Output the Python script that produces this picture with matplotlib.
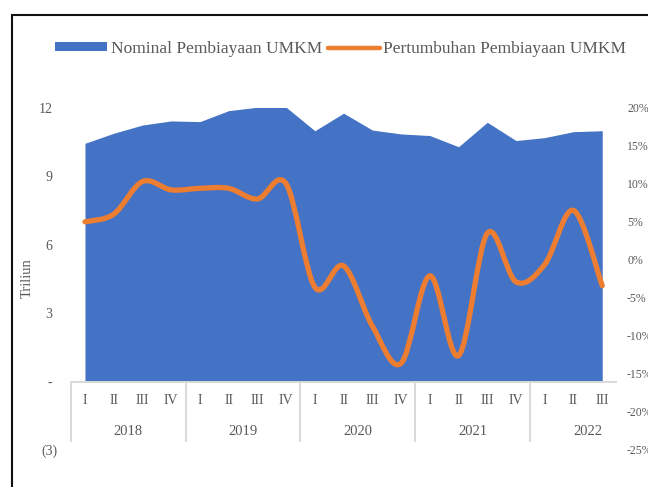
import matplotlib
matplotlib.use("Agg")
import matplotlib.pyplot as plt
from matplotlib.path import Path
from matplotlib.patches import PathPatch, Patch, Rectangle
from matplotlib.lines import Line2D
from matplotlib.transforms import ScaledTranslation
import numpy as np

# ---- data -------------------------------------------------------------
years = ["2018", "2019", "2020", "2021", "2022"]
quarters = ["I", "II", "III", "IV"] * 4 + ["I", "II", "III"]
# Nominal financing to MSMEs (trillion)
nominal = [10.44, 10.88, 11.24, 11.42, 11.39, 11.87, 12.02, 12.02,
           10.99, 11.76, 11.02, 10.85, 10.78, 10.29, 11.36, 10.56,
           10.69, 10.95, 10.99]
# Year-on-year growth of MSME financing (%)
growth = [5.0, 6.0, 10.3, 9.2, 9.4, 9.4, 8.0, 10.0,
          -3.6, -0.8, -8.7, -13.6, -2.1, -12.6, 3.5, -2.9,
          -0.6, 6.5, -3.4]
left_ticks = [-3, 0, 3, 6, 9, 12]
left_tick_labels = ["(3)", "-", "3", "6", "9", "12"]
right_ticks = [-25, -20, -15, -10, -5, 0, 5, 10, 15, 20]
right_tick_labels = [f"{t}%" for t in right_ticks]

legend_labels = ["Nominal Pembiayaan UMKM", "Pertumbuhan Pembiayaan UMKM"]

# ---- style ------------------------------------------------------------
BLUE = "#4472C4"
ORANGE = "#ED7D31"
TEXT = "#595959"
AXLINE = "#D9D9D9"
plt.rcParams["font.family"] = ["Liberation Serif", "DejaVu Serif"]

W, H = 648, 487
fig = plt.figure(figsize=(W / 100, H / 100), dpi=100)

# outer chart frame
fig.add_artist(Rectangle((11.5 / W, -0.05), 1.1, 1 - 14.5 / H + 0.05,
                         transform=fig.transFigure, fill=False,
                         edgecolor="#111111", linewidth=1.5))

ax = fig.add_axes([70.6 / W, 37 / H, 546 / W, 342.3 / H])
x = np.arange(len(nominal))

ax.fill_between(x, 0, nominal, color=BLUE, linewidth=0, zorder=2)
ax.set_xlim(-0.5, len(nominal) - 0.5)
ax.set_ylim(-3, 12)
ax.set_yticks(left_ticks, left_tick_labels)
ax.set_xticks([])
for s in ax.spines.values():
    s.set_visible(False)
ax.tick_params(axis="y", length=0, pad=13, labelsize=10, labelcolor=TEXT)
# accounting-style negative: parentheses hang past the digit column
neg = ax.get_yticklabels()[0]
neg.set_transform(neg.get_transform()
                  + ScaledTranslation(3.5 / 72, 0, fig.dpi_scale_trans))

# category axis line at zero
ax.axhline(0, color=AXLINE, linewidth=1.4, zorder=3)

# multi-level category labels
bounds = [-0.5 + 4 * k for k in range(len(years))]
for b in bounds:
    ax.plot([b, b], [0, -2.6], color=AXLINE, linewidth=1.4,
            clip_on=False, zorder=3)
for i, q in enumerate(quarters):
    ax.text(i, -0.85, q, ha="center", va="center", fontsize=10, color=TEXT)
for k, yr in enumerate(years):
    ax.text(bounds[k] + 2.0, -2.2, yr, ha="center", va="center",
            fontsize=10.5, color=TEXT)

# growth on secondary axis, smoothed line
ax2 = ax.twinx()
ax2.set_ylim(-25, 20)
ax2.set_yticks(right_ticks, right_tick_labels)
ax2.tick_params(axis="y", length=0, pad=7.5, labelsize=8.5, labelcolor=TEXT)
for s in ax2.spines.values():
    s.set_visible(False)
ax2.patch.set_visible(False)


def smooth_path(xs, ys, t=1 / 6):
    pts = np.column_stack([xs, ys]).astype(float)
    verts = [pts[0]]
    codes = [Path.MOVETO]
    m = len(pts)
    for i in range(m - 1):
        p0 = pts[i - 1] if i > 0 else pts[i]
        p1 = pts[i]
        p2 = pts[i + 1]
        p3 = pts[i + 2] if i + 2 < m else pts[i + 1]
        c1 = p1 + (p2 - p0) * t
        c2 = p2 - (p3 - p1) * t
        verts += [c1, c2, p2]
        codes += [Path.CURVE4] * 3
    return Path(verts, codes)


ax2.add_patch(PathPatch(smooth_path(x, growth), facecolor="none",
                        edgecolor=ORANGE, linewidth=3.8,
                        capstyle="round", joinstyle="round", zorder=4))

# axis title
fig.text(27 / W, 1 - 278 / H, "Triliun", rotation=90, ha="center",
         va="center", fontsize=10.5, color=TEXT)

# legend
handles = [Patch(facecolor=BLUE, edgecolor="none"),
           Line2D([], [], color=ORANGE, linewidth=3.2,
                  solid_capstyle="round")]
fig.legend(handles, legend_labels, loc="center left",
           bbox_to_anchor=(55 / W, 1 - 49 / H), ncol=2, frameon=False,
           fontsize=12.5, labelcolor=TEXT, handlelength=3.0,
           handleheight=0.45, handletextpad=0.2, columnspacing=0.35,
           borderpad=0, borderaxespad=0)

fig.savefig("out.png", dpi=100)
